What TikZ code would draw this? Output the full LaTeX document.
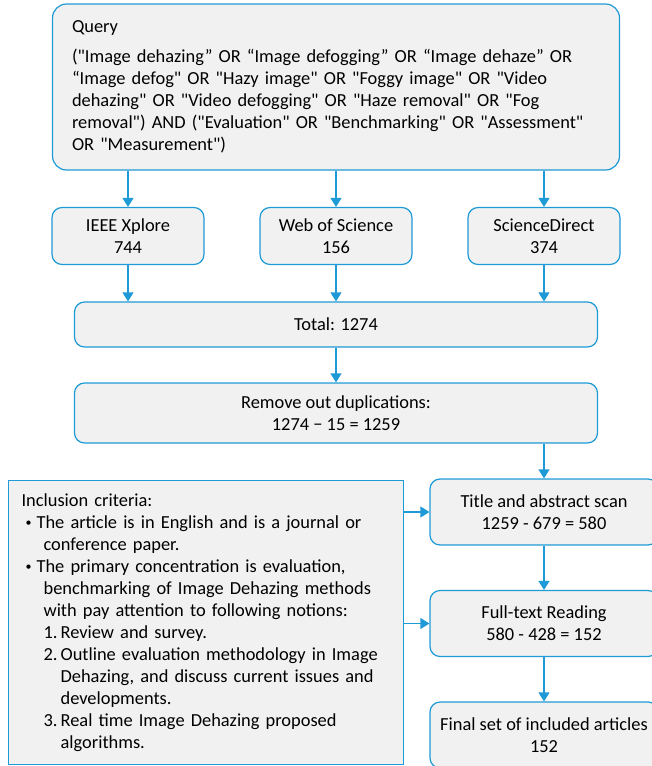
\documentclass[tikz,border=0pt]{standalone}
\usepackage{fontspec}
\setmainfont{Carlito}[Ligatures=TeXOff]
\usetikzlibrary{shapes,arrows.meta,positioning}
\definecolor{boxblue}{HTML}{1E9AD6}
\definecolor{boxgray}{HTML}{F1F1F1}
\newcommand{\smallbul}{\raisebox{1.5pt}{\fontsize{12}{12}\selectfont •}}
\tikzstyle{block} = [rectangle, draw=boxblue, fill=boxgray, line width=1.2pt,
    rounded corners=10pt, align=center, inner sep=0pt]
\tikzstyle{query} = [block, rounded corners=14pt, text width=528pt, align=left,
    minimum width=567pt, minimum height=166pt]
\tikzstyle{source} = [block, minimum width=152pt, minimum height=57pt]
\tikzstyle{wide} = [block, minimum width=523pt]
\tikzstyle{stage} = [block, minimum width=228pt, minimum height=66pt]
\tikzstyle{criteria} = [rectangle, draw=boxblue, fill=boxgray, line width=1.2pt,
    text width=369pt, align=left, inner xsep=13pt, inner ysep=13pt]
\tikzstyle{line} = [draw=boxblue, line width=1.2pt, -{Triangle[length=9pt,width=11pt]}]

\begin{document}
\begin{tikzpicture}[x=1pt, y=-1pt, font=\fontsize{18.4}{22}\selectfont]
    \useasboundingbox (0,0) rectangle (651,766);
    \node[query] (query) at (336,87) {Query\\[8pt]
        ("Image dehazing” OR “Image defogging” OR “Image dehaze” OR\\
        “Image defog" OR "Hazy image" OR "Foggy image" OR "Video\\
        dehazing" OR "Video defogging" OR "Haze removal" OR "Fog\\
        removal") AND ("Evaluation" OR "Benchmarking" OR "Assessment"\\
        OR "Measurement")};
    \node[source, below of=query, xshift=-208pt, node distance=149pt] (ieee) {IEEE Xplore\\744};
    \node[source, right of=ieee, node distance=208pt] (wos) {Web of Science\\156};
    \node[source, right of=wos, node distance=208pt] (sd) {ScienceDirect\\374};
    \node[wide, below of=wos, node distance=88.5pt, minimum height=45pt] (total) {Total: 1274};
    \node[wide, below of=total, node distance=88.5pt, minimum height=60pt] (dup) {Remove out duplications:\\1274 − 15 = 1259};
    \node[stage, below of=sd, node distance=276pt] (scan) {Title and abstract scan\\1259 - 679 = 580};
    \node[stage, below of=scan, node distance=111.5pt] (fulltext) {Full-text Reading\\580 - 428 = 152};
    \node[stage, below of=fulltext, node distance=111.5pt] (final) {Final set of included articles\\152};
    \node[criteria, anchor=north west] (incl) at (8,480) {Inclusion criteria:\\
        \hspace*{4pt}\makebox[11pt][l]{\smallbul}The article is in English and is a journal or\\
        \hspace*{22pt}conference paper.\\
        \hspace*{4pt}\makebox[11pt][l]{\smallbul}The primary concentration is evaluation,\\
        \hspace*{22pt}benchmarking of Image Dehazing methods\\
        \hspace*{22pt}with pay attention to following notions:\\
        \hspace*{22pt}\makebox[17pt][l]{1.}Review and survey.\\
        \hspace*{22pt}\makebox[17pt][l]{2.}Outline evaluation methodology in Image\\
        \hspace*{39pt}Dehazing, and discuss current issues and\\
        \hspace*{39pt}developments.\\
        \hspace*{22pt}\makebox[17pt][l]{3.}Real time Image Dehazing proposed\\
        \hspace*{39pt}algorithms.\par\vspace*{30pt}};

    \path[line] (ieee |- query.south) -- (ieee);
    \path[line] (wos |- query.south) -- (wos);
    \path[line] (sd |- query.south) -- (sd);
    \path[line] (ieee) -- (ieee |- total.north);
    \path[line] (wos) -- (total);
    \path[line] (sd) -- (sd |- total.north);
    \path[line] (total) -- (dup);
    \path[line] (scan |- dup.south) -- (scan);
    \path[line] (incl.east |- scan) -- (scan);
    \path[line] (incl.east |- fulltext) -- (fulltext);
    \path[line] (scan) -- (fulltext);
    \path[line] (fulltext) -- (final);
\end{tikzpicture}
\end{document}
